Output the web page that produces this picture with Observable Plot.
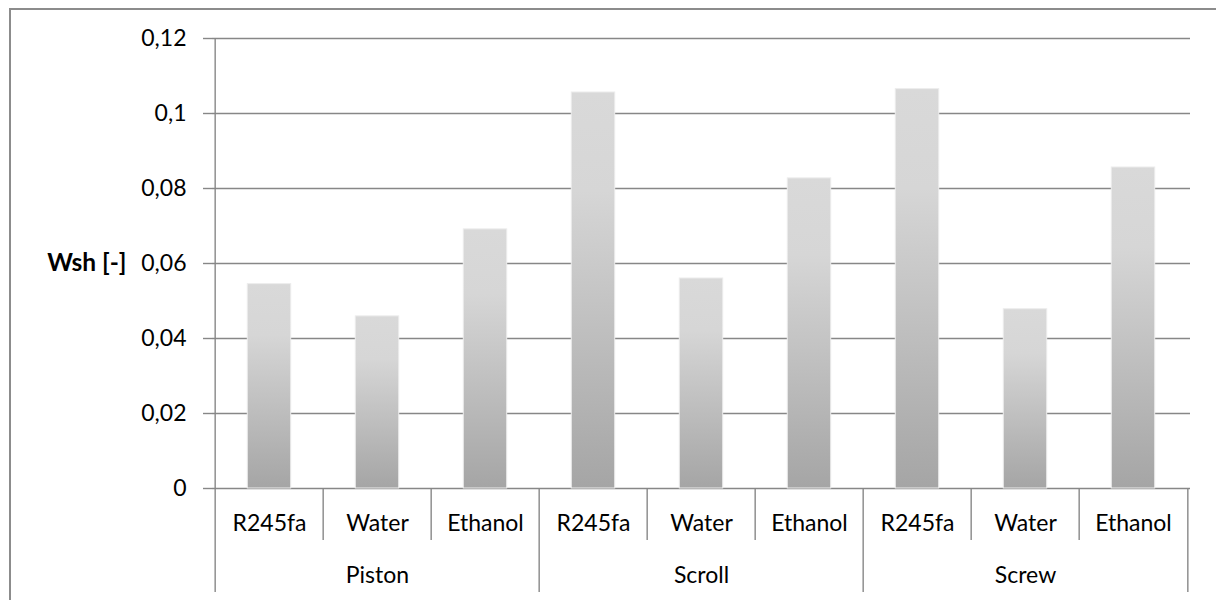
<!DOCTYPE html>
<html><head><meta charset="utf-8">
<script src="https://cdn.jsdelivr.net/npm/d3@7"></script>
<script src="https://cdn.jsdelivr.net/npm/@observablehq/plot@0.6"></script>
<style>
body{margin:0;background:#fff;}
#wrap{position:relative;width:1216px;height:600px;overflow:hidden;background:#fff;}
#wrap svg{position:absolute;left:0;top:0;}
#border{position:absolute;left:9px;top:8px;width:1230px;height:640px;border:2px solid #8c8c8c;box-sizing:border-box;pointer-events:none;z-index:2;}
</style></head><body><div id="wrap"></div>
<script>
// ---- data ----
const groups = ["Piston", "Scroll", "Screw"];
const fluids = ["R245fa", "Water", "Ethanol"];
const pistonValues = [0.0545, 0.0459, 0.0691];
const scrollValues = [0.1056, 0.0560, 0.0827];
const screwValues  = [0.1065, 0.0478, 0.0856];
const yTicks = [0, 0.02, 0.04, 0.06, 0.08, 0.1, 0.12];
const yLabel = "Wsh [-]";

const valuesByGroup = [pistonValues, scrollValues, screwValues];
const data = groups.flatMap((g, i) => fluids.map((f, j) => ({group: g, fluid: f, key: g + "|" + f, value: valuesByGroup[i][j]})));
const keys = data.map(d => d.key);

// ---- layout ----
const W = 1216, H = 600, mL = 212, mR = 26, mT = 38, mB = 112;
const bw = (W - mL - mR) / keys.length;
const lineColor = "#878787";
const lw = 1.4;

const defs = () => {
  const d = d3.create("svg:defs");
  const lg = d.append("linearGradient").attr("id", "barGrad").attr("x1", 0).attr("y1", 0).attr("x2", 0).attr("y2", 1);
  lg.append("stop").attr("offset", "0%").attr("stop-color", "#d9d9d9");
  lg.append("stop").attr("offset", "25%").attr("stop-color", "#d6d6d6");
  lg.append("stop").attr("offset", "100%").attr("stop-color", "#a5a5a5");
  return d.node();
};

const fmt = d => d === 0 ? "0" : String(d).replace(".", ",");

const shortEdges = keys.filter((k, i) => i % 3 !== 0);
const longEdges = keys.filter((k, i) => i % 3 === 0 && i > 0);

const chart = Plot.plot({
  width: W, height: H,
  marginLeft: mL, marginRight: mR, marginTop: mT, marginBottom: mB,
  style: {fontFamily: "Lato, 'Open Sans', sans-serif", fontSize: "23px", color: "#000", background: "transparent"},
  x: {domain: keys, padding: 0, axis: null},
  y: {domain: [0, 0.12], axis: null},
  marks: [
    defs,
    Plot.gridY(yTicks, {stroke: lineColor, strokeOpacity: 1, strokeWidth: lw}),
    Plot.barY(data, {x: "key", y: "value", fill: "url(#barGrad)", insetLeft: 32.3, insetRight: 32.3, stroke: "#ececec", strokeWidth: 1}),
    Plot.axisY(yTicks, {tickSize: 9, tickPadding: 17, tickFormat: fmt, stroke: lineColor, strokeWidth: lw, fill: "#000", label: null}),
    // left axis line (extends through the category area)
    Plot.ruleX([keys[0]], {x: d => d, dx: -bw / 2, stroke: lineColor, strokeWidth: lw, insetBottom: -104}),
    // category separators
    Plot.ruleX(shortEdges, {x: d => d, dx: -bw / 2, y1: 0, y2: 0, stroke: lineColor, strokeWidth: lw, insetBottom: -52}),
    // group separators
    Plot.ruleX(longEdges, {x: d => d, dx: -bw / 2, y1: 0, y2: 0, stroke: lineColor, strokeWidth: lw, insetBottom: -104}),
    Plot.ruleX([keys[keys.length - 1]], {x: d => d, dx: bw / 2, y1: 0, y2: 0, stroke: lineColor, strokeWidth: lw, insetBottom: -104}),
    // category labels
    Plot.text(data, {x: "key", text: "fluid", frameAnchor: "bottom", dy: 35, lineAnchor: "middle", fill: "#000"}),
    // group labels
    Plot.text(groups, {x: g => g + "|" + fluids[1], text: d => d, frameAnchor: "bottom", dy: 87, lineAnchor: "middle", fill: "#000"}),
    // y label
    Plot.text([yLabel], {text: d => d, frameAnchor: "left", dx: -86, textAnchor: "end", lineAnchor: "middle", fontWeight: "bold", fontSize: 24.5, fill: "#000"})
  ]
});
const wrap = document.getElementById("wrap");
wrap.appendChild(chart);
const b = document.createElement("div");
b.id = "border";
wrap.appendChild(b);
</script>
</body></html>
